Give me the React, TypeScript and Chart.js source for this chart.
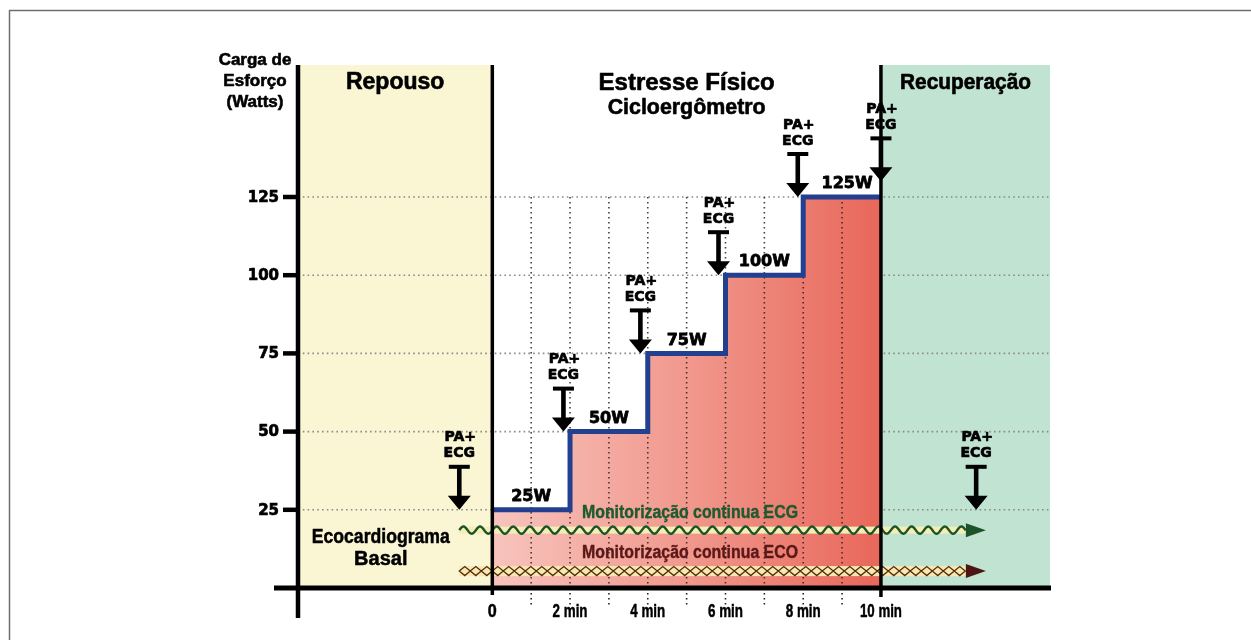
import React, { useEffect, useRef } from 'react';
import { Chart, registerables } from 'chart.js';

Chart.register(...registerables);

// ---------------- data ----------------
const stageTimes = [0, 2, 4, 6, 8, 10];
const stageLoads = [25, 50, 75, 100, 125, 125];
const stageLabels = ['25W', '50W', '75W', '100W', '125W'];
const yTicks = [25, 50, 75, 100, 125];
const xTickValues = [0, 2, 4, 6, 8, 10];
const xTickLabels = ['0', '2 min', '4 min', '6 min', '8 min', '10 min'];
const minuteGrid = [1, 2, 3, 4, 5, 6, 7, 8, 9];
const checkTimes = [-0.85, 1.83, 3.81, 5.82, 7.86, 10, 12.45];
const checkLoads = [25, 50, 75, 100, 125, 130, 25];
const checkLines = ['PA+', 'ECG'];
const phaseBounds = [-5, 0, 10, 14.35];
const phaseTitles = [['Repouso'], ['Estresse Físico', 'Cicloergômetro'], ['Recuperação']];
const yAxisTitle = ['Carga de', 'Esforço', '(Watts)'];
const baselineText = ['Ecocardiograma', 'Basal'];
const monitorTexts = ['Monitorização continua ECG', 'Monitorização continua ECO'];
const monitorRange = [-0.85, 12.7];
const monitorLevels = [18.5, 5.4];

const W = 1251;
const H = 640;

function text(ctx: CanvasRenderingContext2D, s: string, x: number, y: number, font: string, color: string, align: CanvasTextAlign = 'center', maxW?: number, heavy = 0) {
  ctx.save();
  ctx.font = font;
  ctx.fillStyle = color;
  ctx.strokeStyle = color;
  ctx.textAlign = align;
  ctx.textBaseline = 'middle';
  ctx.lineJoin = 'round';
  if (maxW) {
    ctx.fillText(s, x, y, maxW);
    if (heavy) { ctx.lineWidth = heavy; ctx.strokeText(s, x, y, maxW); }
  } else {
    ctx.fillText(s, x, y);
    if (heavy) { ctx.lineWidth = heavy; ctx.strokeText(s, x, y); }
  }
  ctx.restore();
}

function line(ctx: CanvasRenderingContext2D, x1: number, y1: number, x2: number, y2: number, color: string, w: number, dash: number[] = []) {
  ctx.save();
  ctx.beginPath();
  ctx.strokeStyle = color;
  ctx.lineWidth = w;
  ctx.setLineDash(dash);
  ctx.lineCap = 'butt';
  ctx.moveTo(x1, y1);
  ctx.lineTo(x2, y2);
  ctx.stroke();
  ctx.restore();
}

const SANS = '"Liberation Sans", Arial, sans-serif';
const GEO = '"DejaVu Sans", sans-serif';

const figurePlugin = {
  id: 'figure',
  beforeDatasetsDraw(chart: any) {
    const { ctx, chartArea: a, scales } = chart;
    const X = (v: number) => scales.x.getPixelForValue(v);
    const Y = (v: number) => scales.y.getPixelForValue(v);
    ctx.save();
    // frame
    line(ctx, 9, 10.5, W, 10.5, '#6f6f6f', 1.5);
    line(ctx, 9.5, 10, 9.5, H, '#6f6f6f', 1.5);
    // phase bands
    ctx.fillStyle = '#faf6d4';
    ctx.fillRect(X(phaseBounds[0]), a.top, X(phaseBounds[1]) - X(phaseBounds[0]), a.bottom - a.top);
    ctx.fillStyle = '#c1e3d2';
    ctx.fillRect(X(phaseBounds[2]), a.top, X(phaseBounds[3]) - X(phaseBounds[2]), a.bottom - a.top);
    // horizontal dotted grid
    yTicks.forEach((v) => line(ctx, a.left, Y(v), a.right, Y(v), '#8a8a8a', 1.6, [1.6, 3.2]));
    ctx.restore();
  },
  afterDatasetDraw(chart: any, args: any) {
    if (chart.data.datasets[args.index].label !== 'fill') return;
    const { ctx, scales } = chart;
    const X = (v: number) => scales.x.getPixelForValue(v);
    const Y = (v: number) => scales.y.getPixelForValue(v);
    minuteGrid.forEach((m) => {
      line(ctx, X(m), Y(125), X(m), Y(0), 'rgba(40,30,30,0.85)', 1.6, [1.6, 3.4]);
      line(ctx, X(m), Y(0) + 5, X(m), Y(0) + 17, '#222', 1.6, [1.6, 3.4]);
    });
  },
  afterDatasetsDraw(chart: any) {
    const { ctx, chartArea: a, scales } = chart;
    const X = (v: number) => scales.x.getPixelForValue(v);
    const Y = (v: number) => scales.y.getPixelForValue(v);
    ctx.save();

    // ---- monitoring tracks ----
    const x0 = X(monitorRange[0]);
    const x1 = X(monitorRange[1]);
    const headL = 20;
    const headH = 14;
    // ECG wave
    const yE = Y(monitorLevels[0]);
    ctx.fillStyle = '#f5eeb2';
    ctx.fillRect(x0, yE - 3.5, x1 - headL - x0, 7);
    ctx.beginPath();
    for (let x = x0; x <= x1 - headL; x += 0.5) {
      const y = yE - 3.6 * Math.sin(((x - x0) / 16.6) * 2 * Math.PI);
      if (x === x0) ctx.moveTo(x, y);
      else ctx.lineTo(x, y);
    }
    ctx.strokeStyle = '#1c532a';
    ctx.lineWidth = 2.4;
    ctx.stroke();
    ctx.beginPath();
    ctx.moveTo(x1 - headL, yE - headH / 2);
    ctx.lineTo(x1, yE);
    ctx.lineTo(x1 - headL, yE + headH / 2);
    ctx.closePath();
    ctx.fillStyle = '#1c532a';
    ctx.fill();
    // ECO diamonds
    const yO = Y(monitorLevels[1]);
    ctx.fillStyle = '#f4ecad';
    ctx.fillRect(x0, yO - 5, x1 - headL - x0, 10);
    const dw = 11;
    const dh = 9;
    ctx.beginPath();
    for (let x = x0; x + dw <= x1 - headL + 1; x += dw) {
      ctx.moveTo(x, yO);
      ctx.lineTo(x + dw / 2, yO - dh / 2);
      ctx.lineTo(x + dw, yO);
      ctx.lineTo(x + dw / 2, yO + dh / 2);
      ctx.closePath();
    }
    ctx.strokeStyle = '#5e2618';
    ctx.lineWidth = 1.3;
    ctx.stroke();
    ctx.beginPath();
    ctx.moveTo(x1 - headL, yO - headH / 2);
    ctx.lineTo(x1, yO);
    ctx.lineTo(x1 - headL, yO + headH / 2);
    ctx.closePath();
    ctx.fillStyle = '#4d1414';
    ctx.fill();

    // monitoring texts
    text(ctx, monitorTexts[0], 690, Y(24), `bold 18px ${SANS}`, '#1d5a2e', 'center', 216, 0.4);
    text(ctx, monitorTexts[1], 690, Y(11.2), `bold 18px ${SANS}`, '#5a1818', 'center', 216, 0.4);

    // ---- axes ----
    line(ctx, a.left, a.top, a.left, 618, '#000', 4.5);
    line(ctx, 274, a.bottom, a.right + 1, a.bottom, '#000', 5);
    line(ctx, X(0), a.top, X(0), a.bottom + 7, '#000', 3.5);
    line(ctx, X(10), a.top, X(10), a.bottom + 9, '#000', 3.5);
    yTicks.forEach((v) => {
      line(ctx, a.left - 15, Y(v), a.left, Y(v), '#000', 4.5);
      text(ctx, String(v), a.left - 19, Y(v) + 1, `bold 15px ${GEO}`, '#000', 'right', undefined, 0.7);
    });
    xTickValues.forEach((v, i) => {
      const lbl = xTickLabels[i];
      const w = lbl.length === 1 ? 9 : lbl.length === 5 ? 35 : 42;
      text(ctx, lbl, X(v), a.bottom + 24, `bold 19px ${SANS}`, '#000', 'center', w, 0.5);
    });

    // y axis title
    yAxisTitle.forEach((s, i) => text(ctx, s, 255, 60 + i * 21, `bold 17px ${SANS}`, '#000', 'center', undefined, 0.6));

    // phase titles
    text(ctx, phaseTitles[0][0], (X(phaseBounds[0]) + X(phaseBounds[1])) / 2, 83, `bold 23px ${SANS}`, '#000', 'center', undefined, 0.6);
    const midS = (X(phaseBounds[1]) + X(phaseBounds[2])) / 2;
    text(ctx, phaseTitles[1][0], midS, 83, `bold 24px ${SANS}`, '#000', 'center', undefined, 0.6);
    text(ctx, phaseTitles[1][1], midS, 108, `bold 22px ${SANS}`, '#000', 'center', 158, 0.6);
    text(ctx, phaseTitles[2][0], (X(phaseBounds[2]) + X(phaseBounds[3])) / 2, 83, `bold 22px ${SANS}`, '#000', 'center', 131, 0.6);

    // baseline echo text
    text(ctx, baselineText[0], X(-2.87), Y(16), `bold 20px ${SANS}`, '#000', 'center', 138, 0.5);
    text(ctx, baselineText[1], X(-2.87), Y(9), `bold 20px ${SANS}`, '#000', 'center', 138, 0.5);

    // stage labels
    stageLabels.forEach((s, i) => {
      const cx = (X(stageTimes[i]) + X(stageTimes[i + 1])) / 2 + (i === 4 ? 5 : 0);
      text(ctx, s, cx, Y(stageLoads[i]) - 13, `bold 16px ${GEO}`, '#000', 'center', undefined, 0.8);
    });

    // PA+ECG markers
    checkTimes.forEach((t, i) => {
      const cx = X(t);
      const tip = Y(checkLoads[i]);
      ctx.fillStyle = '#000';
      ctx.beginPath();
      ctx.moveTo(cx - 11.5, tip - 14);
      ctx.lineTo(cx + 11.5, tip - 14);
      ctx.lineTo(cx, tip);
      ctx.closePath();
      ctx.fill();
      ctx.fillRect(cx - 2.3, tip - 44, 4.6, 31);
      ctx.fillRect(cx - 10.5, tip - 45, 21, 4);
      text(ctx, checkLines[1], cx, tip - 56, `bold 14px ${GEO}`, '#000', 'center', undefined, 0.7);
      text(ctx, checkLines[0], cx + 1, tip - 72, `bold 14px ${GEO}`, '#000', 'center', undefined, 0.7);
    });

    ctx.restore();
  },
};

export default function App() {
  const ref = useRef<HTMLCanvasElement | null>(null);

  useEffect(() => {
    if (!ref.current) return;
    const pts = stageTimes.map((t, i) => ({ x: t, y: stageLoads[i] }));
    const chart = new Chart(ref.current, {
      type: 'line',
      data: {
        datasets: [
          {
            label: 'line',
            data: pts,
            stepped: true,
            fill: false,
            borderColor: '#233f8f',
            borderWidth: 5,
            pointRadius: 0,
            borderJoinStyle: 'miter',
            order: 1,
          },
          {
            label: 'fill',
            data: pts,
            stepped: true,
            fill: 'origin',
            borderWidth: 0,
            borderColor: 'rgba(0,0,0,0)',
            pointRadius: 0,
            order: 2,
            backgroundColor: (c: any) => {
              const ch = c.chart;
              if (!ch.chartArea) return '#f0958a';
              const g = ch.ctx.createLinearGradient(ch.scales.x.getPixelForValue(0), 0, ch.scales.x.getPixelForValue(10), 0);
              g.addColorStop(0, '#f7c4bd');
              g.addColorStop(0.5, '#f1988d');
              g.addColorStop(1, '#e8675a');
              return g;
            },
          },
        ],
      },
      options: {
        responsive: false,
        animation: false,
        layout: { padding: { left: 298, right: 201, top: 65, bottom: 52 } },
        plugins: { legend: { display: false }, tooltip: { enabled: false } },
        scales: {
          x: { type: 'linear', min: phaseBounds[0], max: phaseBounds[3], display: false },
          y: { type: 'linear', min: 0, max: 167.2, display: false },
        },
      },
      plugins: [figurePlugin],
    } as any);
    return () => chart.destroy();
  }, []);

  return (
    <div style={{ position: 'absolute', left: 0, top: 0, width: W, height: H, background: '#fff' }}>
      <canvas ref={ref} width={W} height={H} style={{ display: 'block', width: W, height: H }} />
    </div>
  );
}
